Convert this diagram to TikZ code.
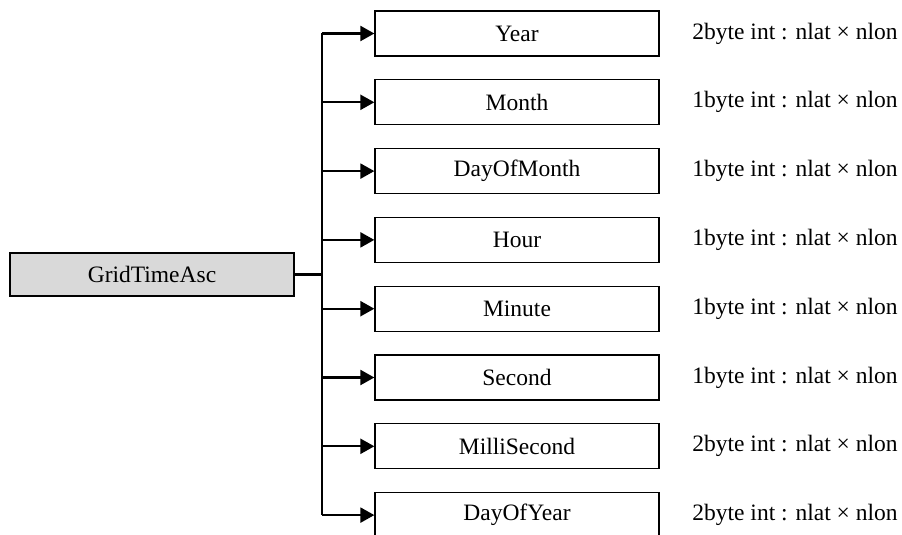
\documentclass[tikz,border=0pt]{standalone}
\usepackage{fontspec}
\setmainfont{Liberation Serif}
\usetikzlibrary{positioning}
\usetikzlibrary{arrows.meta}
\tikzset{field/.style = {draw, line width=0.65pt, minimum width=142pt,
                         minimum height=22.5pt, inner sep=0, font=\fontsize{11.75}{14}\selectfont}}
\tikzset{root/.style = {field, fill=black!15, minimum height=21.5pt}}
\tikzset{bytes/.style = {anchor=west, inner sep=0, font=\fontsize{11.75}{14}\selectfont}}
\tikzset{link/.style = {line width=1.15pt}}

\begin{document}
\begin{tikzpicture}[x=0.5pt,y=-0.5pt]
      \useasboundingbox (0,0) rectangle (902,535);
      \clip (0,0) rectangle (902,535);
      % root box and bus
      \node[root] (asc) at (152,274.5) {GridTimeAsc};
      \coordinate (bus) at (322,274.5);

      % fields with their sizes
      \foreach \name/\nb [count=\i] in {Year/2, Month/1, DayOfMonth/1, Hour/1,
                                         Minute/1, Second/1, MilliSecond/2, DayOfYear/2} {
        \node[field] (f\i) at ({517},{33.5+68.8*(\i-1)}) {\name};
        \node[bytes] (b\i) at ({692},{33.5+68.8*(\i-1)}) {\nb byte int : nlat × nlon};
      }

      % connectors
      \draw[link] (asc.east) -- (bus);
      \draw[link] (bus |- f1) -- (bus |- f8);
      \foreach \i in {1,...,8}
        \draw[link,-{Triangle[length=7pt,width=7.5pt]}] (bus |- f\i) -- (f\i.west);
    \end{tikzpicture}
\end{document}
